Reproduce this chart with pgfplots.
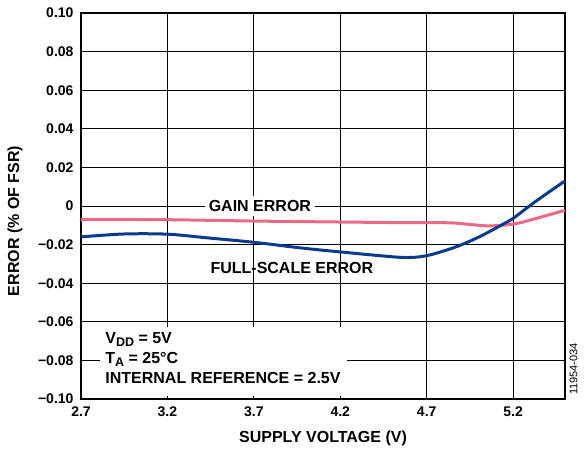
\documentclass[border=0pt]{standalone}
\usepackage{fontspec}
\setmainfont{Liberation Sans}
\usepackage{pgfplots}
\pgfplotsset{compat=1.18}
\definecolor{gainpink}{HTML}{E96A85}
\definecolor{fsblue}{HTML}{0D3B8C}
\newcommand{\sub}[1]{\raisebox{-0.35ex}{\fontsize{12.5}{13}\selectfont #1}}

\begin{document}
\begin{tikzpicture}
\begin{axis}[
    scale only axis,
    width=484pt,
    height=386pt,
    xmin=2.7, xmax=5.5,
    ymin=-0.10, ymax=0.10,
    xtick={2.7,3.2,3.7,4.2,4.7,5.2},
    ytick={-0.10,-0.08,-0.06,-0.04,-0.02,0,0.02,0.04,0.06,0.08,0.10},
    yticklabels={\textminus0.10,\textminus0.08,\textminus0.06,\textminus0.04,\textminus0.02,0,0.02,0.04,0.06,0.08,0.10},
    xticklabels={2.7,3.2,3.7,4.2,4.7,5.2},
    tick style={draw=none},
    grid=major,
    grid style={black, line width=0.9pt},
    axis line style={black, line width=1.5pt},
    ticklabel style={font=\fontsize{14}{16}\selectfont\bfseries},
    yticklabel style={xshift=-4pt},
    xticklabel style={yshift=-4pt},
    clip=false,
]
% gain error
\addplot[gainpink, line width=3pt, smooth, tension=0.5] coordinates {
(2.7,-0.0069) (3.2,-0.0071) (3.7,-0.0078) (4.2,-0.0083)
(4.55,-0.0086) (4.83,-0.0087) (4.93,-0.0094) (5.06,-0.0103) (5.2,-0.0094) (5.315,-0.0069) (5.5,-0.0022)
};
% full-scale error
\addplot[fsblue, line width=3pt, smooth, tension=0.5] coordinates {
(2.7,-0.0160) (2.95,-0.0145) (3.2,-0.0146) (3.43,-0.0165) (3.7,-0.0188) (3.97,-0.0217) (4.2,-0.0238)
(4.55,-0.0266) (4.69,-0.0259) (4.83,-0.0224) (4.93,-0.0190) (5.026,-0.0150) (5.14,-0.0095)
(5.2,-0.0064) (5.315,0.0014) (5.41,0.0074) (5.5,0.0130)
};
\node[fill=white, inner sep=4pt, font=\fontsize{16}{18}\selectfont\bfseries] at (axis cs:3.735,0) {GAIN ERROR};
\node[font=\fontsize{16}{18}\selectfont\bfseries] at (axis cs:3.92,-0.0321) {FULL-SCALE ERROR};
\fill[white] (axis cs:2.81,-0.0625) rectangle (axis cs:4.24,-0.0985);
\node[anchor=north west, align=left, inner sep=0pt, font=\fontsize{16}{20}\selectfont\bfseries]
  at (axis cs:2.84,-0.0655) {V\sub{DD} = 5V\\T\sub{A} = 25°C\\INTERNAL REFERENCE = 2.5V};
\node[rotate=90, font=\fontsize{11}{12}\selectfont] at ([xshift=8.5pt]rel axis cs:1,0.078) {11954-034};
\node[font=\fontsize{16}{18}\selectfont\bfseries] at ([yshift=-39pt]rel axis cs:0.5,0) {SUPPLY VOLTAGE (V)};
\node[rotate=90, font=\fontsize{16}{18}\selectfont\bfseries] at ([xshift=-66pt]rel axis cs:0,0.461) {ERROR (\% OF FSR)};
\end{axis}
\pgfresetboundingbox
\path[use as bounding box] (-81pt,-56pt) rectangle (504pt,399pt);
\end{tikzpicture}
\end{document}
